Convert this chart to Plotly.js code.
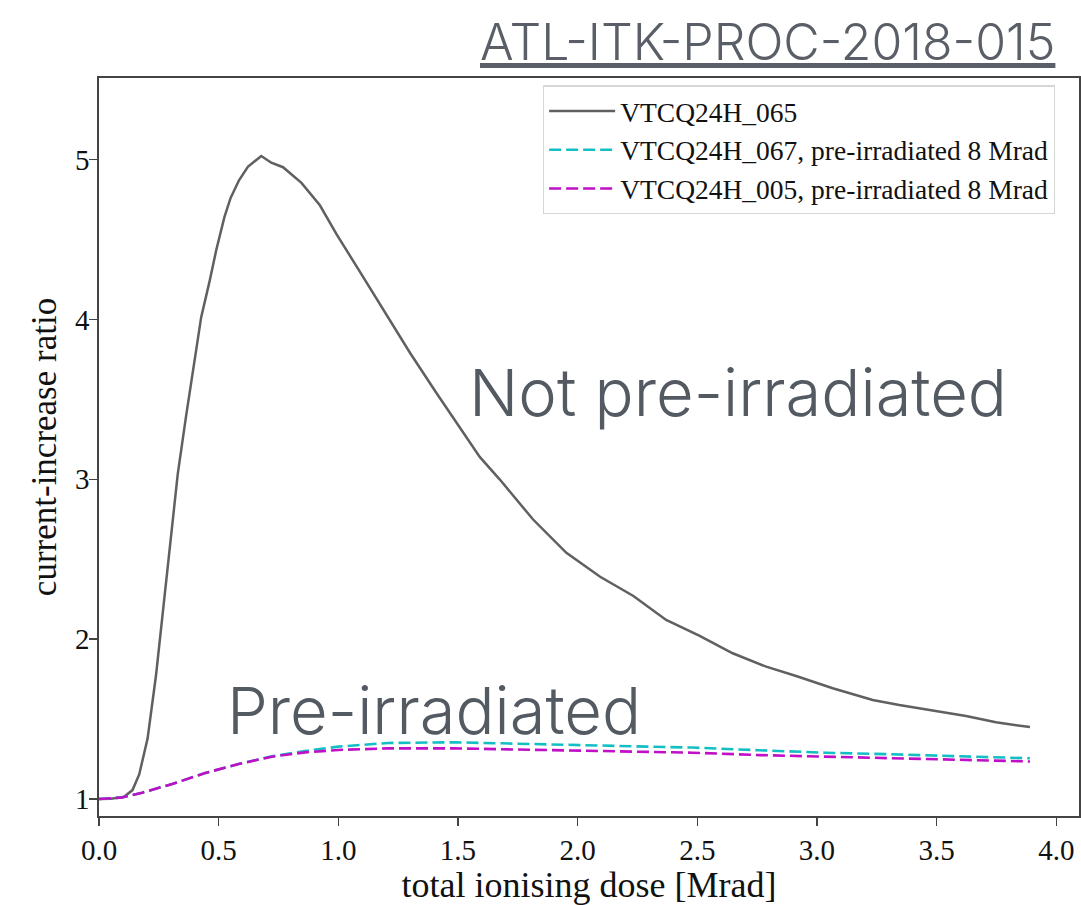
<!DOCTYPE html>
<html>
<head>
<meta charset="utf-8">
<script src="https://cdn.plot.ly/plotly-3.0.1.min.js"></script>
<style>html,body{margin:0;padding:0;background:#fff;}#chart{width:1081px;height:905px;}</style>
</head>
<body>
<div id="chart"></div>
<script>
// Data
var doseA = [0, 0.05, 0.105, 0.14, 0.168, 0.203, 0.238, 0.266, 0.294, 0.329, 0.364, 0.392, 0.427, 0.462, 0.49, 0.524, 0.55, 0.585, 0.622, 0.678, 0.72, 0.769, 0.846, 0.923, 0.993, 1.077, 1.175, 1.30, 1.41, 1.507, 1.591, 1.674, 1.813, 1.953, 2.094, 2.233, 2.37, 2.51, 2.648, 2.788, 2.913, 3.066, 3.233, 3.344, 3.484, 3.623, 3.748, 3.89];
var ratio065 = [1.0, 1.002, 1.014, 1.056, 1.154, 1.378, 1.771, 2.163, 2.556, 3.032, 3.397, 3.677, 4.014, 4.238, 4.434, 4.64, 4.76, 4.87, 4.955, 5.022, 4.98, 4.952, 4.854, 4.714, 4.532, 4.33, 4.09, 3.79, 3.54, 3.33, 3.14, 3.0, 2.75, 2.54, 2.39, 2.27, 2.12, 2.02, 1.912, 1.828, 1.77, 1.693, 1.62, 1.588, 1.552, 1.519, 1.48, 1.45];
var doseB = [0, 0.097, 0.18, 0.306, 0.444, 0.583, 0.722, 0.861, 1.0, 1.208, 1.486, 1.764, 2.042, 2.2, 2.48, 2.76, 3.035, 3.31, 3.59, 3.89];
var ratio067 = [1.0, 1.01, 1.04, 1.094, 1.163, 1.219, 1.267, 1.3, 1.328, 1.351, 1.355, 1.347, 1.337, 1.332, 1.322, 1.305, 1.29, 1.28, 1.268, 1.255];
var ratio005 = [1.0, 1.01, 1.04, 1.094, 1.163, 1.219, 1.265, 1.292, 1.307, 1.317, 1.317, 1.309, 1.30, 1.298, 1.29, 1.275, 1.265, 1.255, 1.245, 1.235];
var names = ['VTCQ24H_065', 'VTCQ24H_067, pre-irradiated 8 Mrad', 'VTCQ24H_005, pre-irradiated 8 Mrad'];
var xTickVals = [0, 0.5, 1, 1.5, 2, 2.5, 3, 3.5, 4];
var yTickVals = [1, 2, 3, 4, 5];

var serif = 'Liberation Serif, DejaVu Serif, serif';
var sans = 'Inter, Open Sans, sans-serif';
var traces = [
  {x: doseA, y: ratio065, name: names[0], mode: 'lines', legendgroup: 'a',
   line: {color: '#606060', width: 2.5}},
  {x: doseB, y: ratio067, name: names[1], mode: 'lines', legendgroup: 'b',
   line: {color: '#14bfc4', width: 2.6, dash: '12px,5px'}},
  {x: doseB, y: ratio005, name: names[2], mode: 'lines', legendgroup: 'c',
   line: {color: '#c00fc6', width: 2.6, dash: '12px,5px'}}
];

var axisCommon = {
  showline: true, mirror: true, linecolor: '#444', linewidth: 1.6,
  ticks: 'outside', ticklen: 8, tickwidth: 1.4, tickcolor: '#444',
  showgrid: false, zeroline: false,
  tickfont: {family: serif, size: 29, color: '#111'}
};

var layout = {
  width: 1081, height: 905,
  margin: {l: 99, r: 2, t: 78, b: 89},
  paper_bgcolor: '#fff', plot_bgcolor: '#fff',
  showlegend: true,
  legend: {
    x: 0.453, y: 0.99, xanchor: 'left', yanchor: 'top',
    bgcolor: 'rgba(255,255,255,0.9)', bordercolor: '#d6d6d6', borderwidth: 1.2,
    font: {family: serif, size: 27.5, color: '#111'},
    tracegroupgap: 0, itemwidth: 66
  },
  xaxis: Object.assign({}, axisCommon, {
    range: [0, 4.095], tickvals: xTickVals, tickformat: '.1f',
    title: {text: 'total ionising dose [Mrad]', font: {family: serif, size: 36, color: '#111'}, standoff: 6}
  }),
  yaxis: Object.assign({}, axisCommon, {
    range: [0.894, 5.51], tickvals: yTickVals, ticklabelstandoff: -6,
    title: {text: 'current-increase ratio', font: {family: serif, size: 35, color: '#111'}, standoff: 8}
  }),
  annotations: [
    {xref: 'paper', yref: 'paper', x: 0.682, y: 1.049, xanchor: 'center', yanchor: 'middle',
     text: '<u>ATL-ITK-PROC-2018-015</u>', showarrow: false,
     font: {family: sans, size: 50, color: '#5a5f67', weight: 300}},
    {xref: 'x', yref: 'y', x: 1.536, y: 3.54, xanchor: 'left', yanchor: 'middle',
     text: 'Not pre-irradiated', showarrow: false,
     font: {family: sans, size: 65, color: '#545a62', weight: 300}},
    {xref: 'x', yref: 'y', x: 0.525, y: 1.557, xanchor: 'left', yanchor: 'middle',
     text: 'Pre-irradiated', showarrow: false,
     font: {family: sans, size: 65, color: '#545a62', weight: 300}}
  ]
};

Plotly.newPlot('chart', traces, layout, {displayModeBar: false, staticPlot: true});
</script>
</body>
</html>
